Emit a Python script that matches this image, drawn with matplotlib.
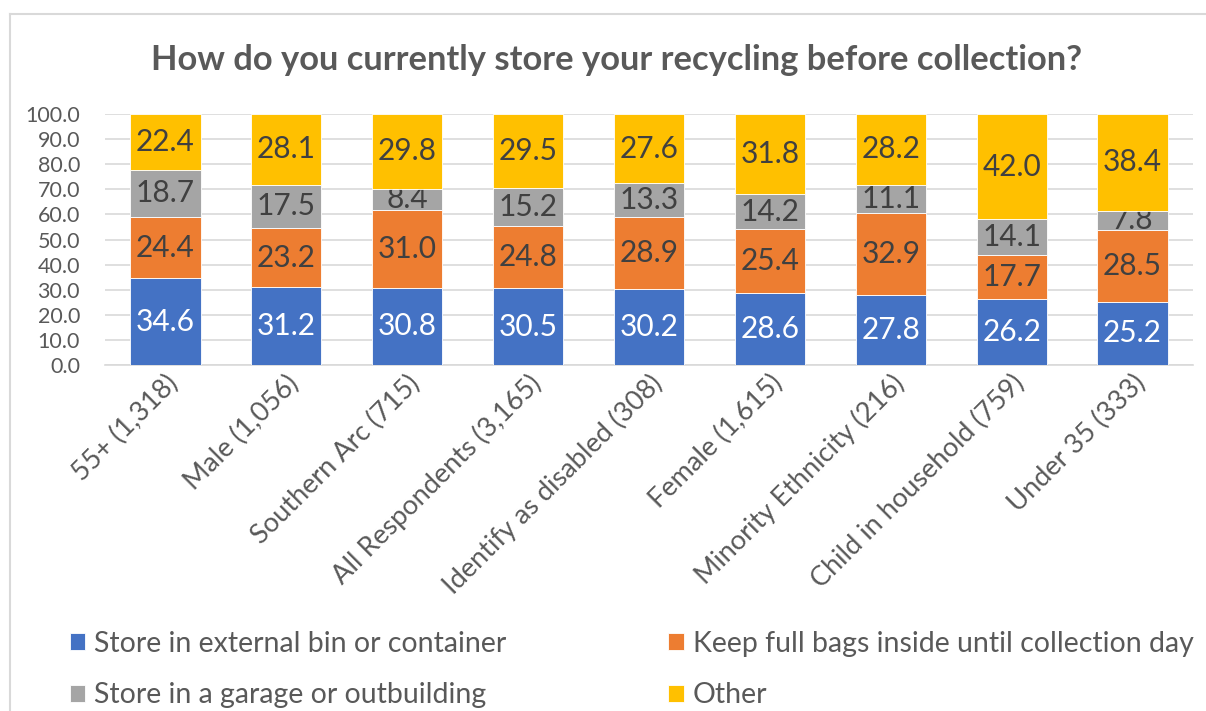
import numpy as np
import matplotlib.pyplot as plt
from matplotlib.lines import Line2D

plt.rcParams['font.family'] = ['Lato', 'DejaVu Sans']

categories = ["55+ (1,318)", "Male (1,056)", "Southern Arc (715)", "All Respondents (3,165)",
              "Identify as disabled (308)", "Female (1,615)", "Minority Ethnicity (216)",
              "Child in household (759)", "Under 35 (333)"]
external_bin = [34.6, 31.2, 30.8, 30.5, 30.2, 28.6, 27.8, 26.2, 25.2]
bags_inside = [24.4, 23.2, 31.0, 24.8, 28.9, 25.4, 32.9, 17.7, 28.5]
garage = [18.7, 17.5, 8.4, 15.2, 13.3, 14.2, 11.1, 14.1, 7.8]
other = [22.4, 28.1, 29.8, 29.5, 27.6, 31.8, 28.2, 42.0, 38.4]

series = [
    ("Store in external bin or container", external_bin, "#4472C4", "white"),
    ("Keep full bags inside until collection day", bags_inside, "#ED7D31", "#404040"),
    ("Store in a garage or outbuilding", garage, "#A5A5A5", "#404040"),
    ("Other", other, "#FFC000", "#404040"),
]

fig = plt.figure(figsize=(12.06, 7.11), dpi=100)
ax = fig.add_axes([105 / 1206, 1 - 365 / 711, (1193 - 105) / 1206, (365 - 114) / 711])

x = np.arange(len(categories))
bottom = np.zeros(len(categories))
handles = []
for name, vals, color, tcol in series:
    vals = np.array(vals)
    bars = ax.bar(x, vals, width=0.58, bottom=bottom, color=color,
                  edgecolor="white", linewidth=0.6, zorder=3, label=name)
    ax.bar_label(bars, labels=[f"{v:.1f}" for v in vals], label_type="center",
                 color=tcol, fontsize=21.5)
    bottom = bottom + vals
    handles.append(bars)

ax.set_xlim(-0.5, len(categories) - 0.5)
ax.set_ylim(0, 100)
ax.set_yticks(np.arange(0, 101, 10))
ax.set_yticklabels([f"{v:.1f}" for v in np.arange(0, 101, 10)], fontsize=15.5, color="#595959")
ax.yaxis.grid(True, color="#D9D9D9", linewidth=1.2, zorder=0)
ax.set_axisbelow(True)
for s in ["top", "right", "left"]:
    ax.spines[s].set_visible(False)
ax.spines["bottom"].set_color("#D9D9D9")
ax.spines["bottom"].set_linewidth(1.2)
ax.tick_params(axis="y", length=0, pad=18)
ax.tick_params(axis="x", length=0, pad=4)
ax.set_xticks(x)
ax.set_xticklabels(categories, rotation=45, ha="right", rotation_mode="anchor",
                   fontsize=19.5, color="#595959")

fig.text(0.511, 1 - 60 / 711, "How do you currently store your recycling before collection?",
         ha="center", va="center", fontsize=24.8, fontweight="bold", color="#595959")

# legend filled row by row: blue, orange / gray, yellow
leg_order = [handles[0], handles[2], handles[1], handles[3]]
fig.legend(handles=leg_order, loc="upper left", bbox_to_anchor=(44 / 1206, 1 - 605 / 711),
           ncol=2, frameon=False, fontsize=20.5, labelcolor="#595959",
           handlelength=0.55, handleheight=0.55, handletextpad=0.3,
           columnspacing=5.7, labelspacing=0.9)

# chart border (partially cropped)
fig.add_artist(Line2D([10 / 1206, 10 / 1206], [0, 1 - 14 / 711], color="#D9D9D9", linewidth=1.5))
fig.add_artist(Line2D([10 / 1206, 1], [1 - 14 / 711, 1 - 14 / 711], color="#D9D9D9", linewidth=1.5))

fig.savefig("out.png", dpi=100)
